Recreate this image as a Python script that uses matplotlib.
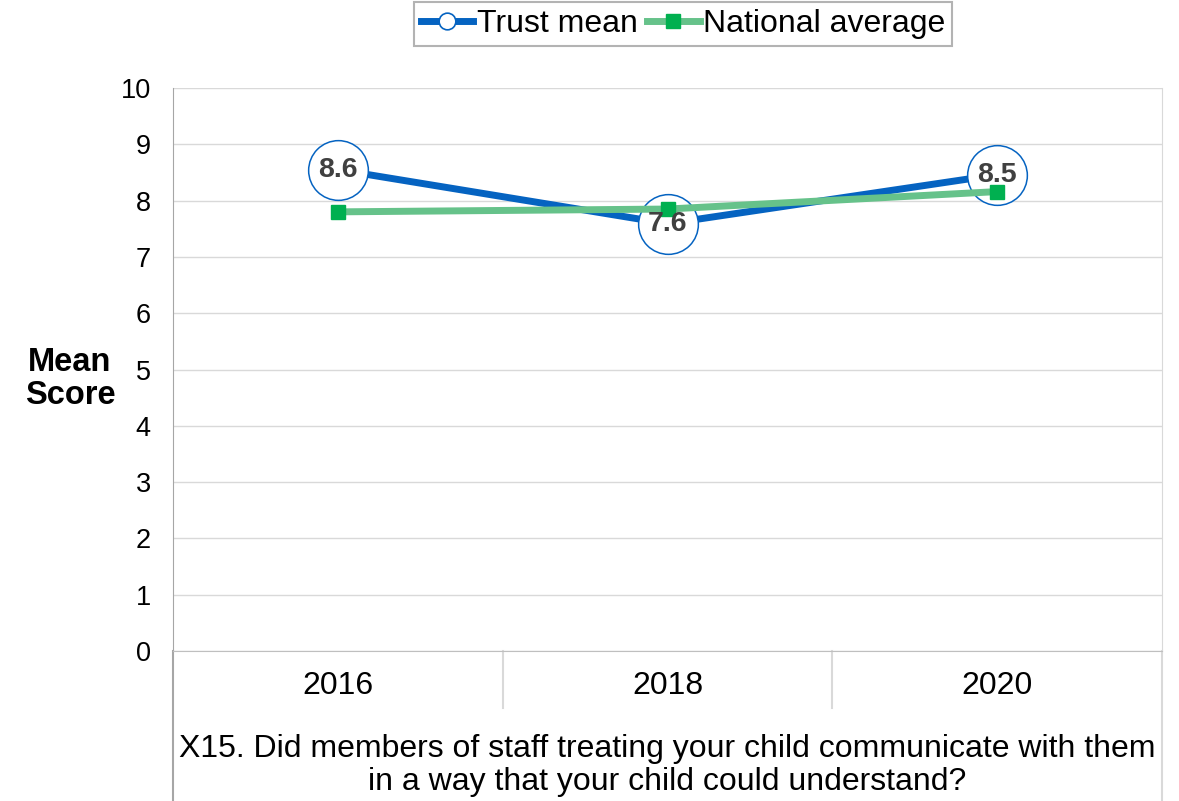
import matplotlib.pyplot as plt
from matplotlib.lines import Line2D

years = ["2016", "2018", "2020"]
trust_mean = [8.55, 7.59, 8.46]
trust_labels = ["8.6", "7.6", "8.5"]
national_avg = [7.80, 7.85, 8.16]
question = ("X15. Did members of staff treating your child communicate with them\n"
            "in a way that your child could understand?")

plt.rcParams['font.family'] = ['Liberation Sans', 'DejaVu Sans']

blue = '#0563C1'
green_line = '#66C28A'
green_mark = '#00B050'
grid_col = '#d9d9d9'

fig = plt.figure(figsize=(11.79, 8.01), dpi=100)
ax = fig.add_axes([173 / 1179, 1 - 651 / 801, 989 / 1179, 563 / 801])

x = list(range(len(years)))

ax.plot(x, trust_mean, color=blue, lw=5, zorder=3, solid_capstyle='round')
ax.plot(x, trust_mean, ls='none', marker='o', markersize=43, markerfacecolor='white',
        markeredgecolor=blue, markeredgewidth=1.1, zorder=4)
ax.plot(x, national_avg, color=green_line, lw=5, zorder=5)
ax.plot(x, national_avg, ls='none', marker='s', markersize=10, color=green_mark, zorder=6)

for xi, yi, lab in zip(x, trust_mean, trust_labels):
    ax.text(xi, yi, lab, ha='center', va='center', fontsize=20.5, fontweight='bold',
            color='#404040', zorder=7)

ax.set_xlim(-0.5, len(years) - 0.5)
ax.set_ylim(0, 10)
ax.set_yticks(range(0, 11))
ax.tick_params(axis='y', length=0, pad=16, labelsize=19.5)
ax.set_xticks([])
ax.grid(True, axis='y', color=grid_col, lw=1)
ax.set_axisbelow(True)

ax.spines['top'].set_visible(False)
ax.spines['left'].set_color('#a6a6a6')
ax.spines['right'].set_color(grid_col)
ax.spines['bottom'].set_color('#bfbfbf')

# category separators and label box below the axis
tr = ax.get_xaxis_transform()
for b in [0.5, 1.5]:
    ax.plot([b, b], [0, -0.101], transform=tr, color=grid_col, lw=1.5, clip_on=False)
for b in [-0.5, len(years) - 0.5]:
    col = '#a6a6a6' if b < 0 else grid_col
    ax.plot([b, b], [0, -0.3], transform=tr, color=col, lw=1.5, clip_on=False)

for xi, yr in zip(x, years):
    ax.text(xi, -0.062, yr, transform=tr, ha='center', va='center', fontsize=23)

ax.text(1, -0.2035, question, transform=tr, ha='center', va='center', fontsize=23,
        linespacing=1.1)

fig.text(70 / 1179, 1 - 379 / 801, "Mean\nScore", ha='center', va='center',
         fontsize=23.5, fontweight='bold', linespacing=1.08)

handles = [
    Line2D([], [], color=blue, lw=5, marker='o', markersize=12,
           markerfacecolor='white', markeredgecolor=blue, markeredgewidth=1.2),
    Line2D([], [], color=green_line, lw=5, marker='s', markersize=10,
           markerfacecolor=green_mark, markeredgecolor=green_mark),
]
leg = fig.legend(handles, ["Trust mean", "National average"], loc='upper center',
                 bbox_to_anchor=(683 / 1179, 1 - 2 / 801), ncol=2, fontsize=23,
                 frameon=True, fancybox=False, handlelength=1.65, handletextpad=0.1,
                 columnspacing=0.3, borderpad=0.22, borderaxespad=0)
leg.get_frame().set_edgecolor('#a0a0a0')
leg.get_frame().set_linewidth(1.5)

fig.savefig("out.png", dpi=100)
